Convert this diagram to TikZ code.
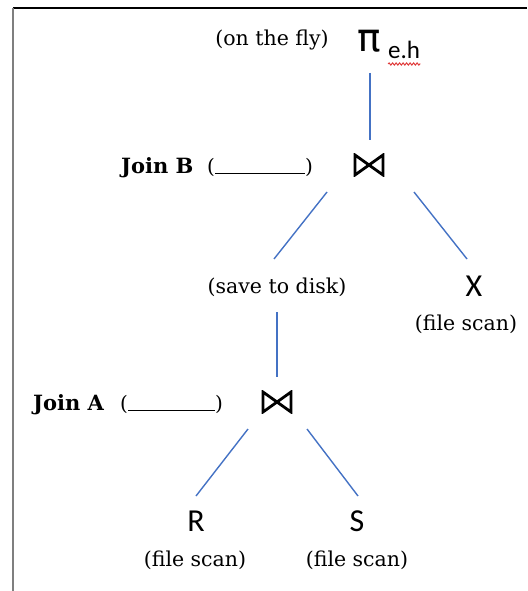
\documentclass[tikz,border=0pt]{standalone}
\usepackage{fontspec}
\setmainfont{DejaVu Serif}
\newfontfamily\sansfnt{Carlito}
\newfontfamily\pifnt{DejaVu Sans}
\usetikzlibrary{calc,decorations.pathmorphing}
\definecolor{linkblue}{HTML}{4472C4}
\definecolor{framegray}{HTML}{7F7F7F}
\definecolor{squiggle}{HTML}{E03C3C}
\tikzset{
  note/.style={inner sep=0pt, font=\fontsize{20.5}{24}\selectfont},
  joinlabel/.style={inner sep=0pt, anchor=base west, font=\fontsize{21}{25}\selectfont\bfseries},
  blank/.style={inner sep=0pt, anchor=base west, font=\fontsize{20}{24}\selectfont},
  rel/.style={inner sep=0pt, font=\sansfnt\fontsize{32}{36}\selectfont},
  link/.style={draw=linkblue, line width=1.4pt},
  bowtie/.style={inner sep=0pt, minimum width=31pt, minimum height=23pt,
    path picture={
      \draw[line width=2.8pt, line join=miter]
        ($(path picture bounding box.north west)+(1.5,1.5)$) --
        ($(path picture bounding box.south west)+(1.5,-1.5)$) --
        ($(path picture bounding box.north east)+(-1.5,1.5)$) --
        ($(path picture bounding box.south east)+(-1.5,-1.5)$) -- cycle;
    }},
}
\begin{document}
\begin{tikzpicture}[x=1pt,y=-1pt]
\useasboundingbox (0,0) rectangle (527,591);
% frame
\draw[black, line width=1.2pt] (13,8) -- (527,8);
\draw[framegray, line width=2pt] (13,8) -- (13,591);

% top projection
\node[note] (fly) at (272,40) {(on the fly)};
\node[inner sep=0pt, font=\pifnt\fontsize{39}{42}\selectfont] (pi) at (369,41) {π};
\node[inner sep=0pt, anchor=base west, font=\sansfnt\fontsize{25}{28}\selectfont] (eh) at (388,59) {e.h};
\draw[squiggle, line width=1pt, decorate, decoration={snake, amplitude=1.1pt, segment length=3.5pt}]
  ($(eh.base west)+(0,5)$) -- ($(eh.base east)+(0,5)$);

% join B
\node[joinlabel] (lblB) at (121,173) {Join B};
\node[blank] (blankB) at (207,173) {(\rule[-1pt]{90pt}{1.2pt})};
\node[bowtie] (jB) at (369,165) {};

% middle
\node[note] (sd) at (277,287) {(save to disk)};
\node[rel] (X) at (474,286) {X};
\node[note] (fsX) at (466,324) {(file scan)};

% join A
\node[joinlabel] (lblA) at (33,410) {Join A};
\node[blank] (blankA) at (120,410) {(\rule[-1pt]{87pt}{1.2pt})};
\node[bowtie] (jA) at (277,402) {};

% leaves
\node[rel] (R) at (196,521) {R};
\node[rel] (S) at (357,521) {S};
\node[note] (fsR) at (195,560) {(file scan)};
\node[note] (fsS) at (357,560) {(file scan)};

% connectors
\draw[link] ($(pi.center)+(1,32)$) -- ($(jB.center)+(1,-25)$);
\draw[link] ($(jB.center)+(-42,27)$) -- ($(sd.center)+(-3,-28)$);
\draw[link] ($(jB.center)+(45,27)$) -- ($(X.center)+(-7,-27)$);
\draw[link] ($(sd.center)+(0,25)$) -- ($(jA.center)+(0,-25)$);
\draw[link] ($(jA.center)+(-29,27)$) -- ($(R.center)+(0,-25)$);
\draw[link] ($(jA.center)+(30,27)$) -- ($(S.center)+(1,-25)$);
\end{tikzpicture}
\end{document}
